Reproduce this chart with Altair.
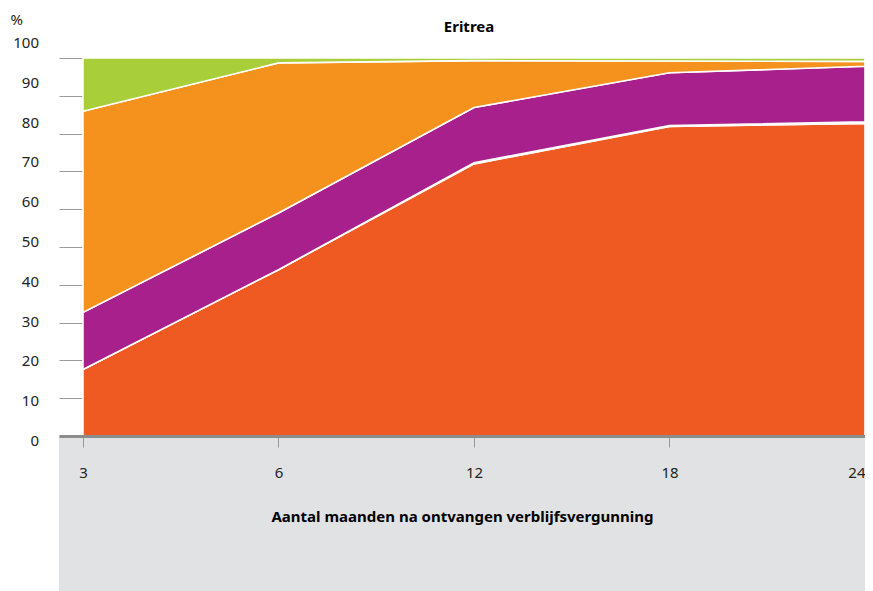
import json
import altair as alt
import pandas as pd

# Data
title_text = ["Eritrea"]
months = ["3", "6", "12", "18", "24"]
series = ["Reeks 1", "Reeks 2", "Reeks 3", "Reeks 4", "Reeks 5"]
red = [17.6, 44.0, 72.0, 81.9, 82.7]
yellow = [0.0, 0.0, 0.3, 0.2, 0.4]
purple = [15.1, 15.0, 14.6, 14.0, 14.7]
orange = [53.2, 39.7, 12.4, 3.1, 1.3]
green = [14.1, 1.3, 0.7, 0.8, 0.9]
colors = ["#EF5A22", "#FFCC00", "#A8208B", "#F5921E", "#A8CF3A"]
y_ticks = [0, 10, 20, 30, 40, 50, 60, 70, 80, 90, 100]

rows = []
for s_i, (name, vals) in enumerate(zip(series, [red, yellow, purple, orange, green])):
    for m_i, v in enumerate(vals):
        rows.append({"idx": m_i, "maand": months[m_i], "reeks": name, "ord": s_i, "waarde": v})
df = pd.DataFrame(rows)

W, H = 806, 378
FONT = "Noto Sans"

label_expr = json.dumps(months) + "[datum.value]"

panel = alt.Chart(pd.DataFrame({"a": [0]})).mark_rect(color="#E1E2E4").encode(
    x=alt.value(0), x2=alt.value(W), y=alt.value(H), y2=alt.value(H + 170)
)

areas = alt.Chart(df).mark_area(stroke="white", strokeWidth=1.6, interpolate="linear").encode(
    x=alt.X(
        "idx:Q",
        scale=alt.Scale(domain=[-0.1226, 4.0], nice=False, zero=False),
        axis=alt.Axis(
            values=list(range(len(months))),
            labelExpr=label_expr,
            title="Aantal maanden na ontvangen verblijfsvergunning",
            titleFontWeight="bold",
            titleFontSize=15,
            titleColor="#000000",
            titlePadding=29,
            labelFontSize=15,
            labelColor="#222222",
            labelPadding=18,
            tickSize=11,
            tickColor="#999999",
            tickWidth=1,
            domainColor="#8C8C8C",
            domainWidth=3,
            grid=False,
            zindex=1,
        ),
    ),
    y=alt.Y(
        "waarde:Q",
        stack="zero",
        scale=alt.Scale(domain=[0, 100], nice=False),
        axis=alt.Axis(
            values=y_ticks,
            title="%",
            titleAngle=0,
            titleAlign="left",
            titleBaseline="middle",
            titleX=-49,
            titleY=-39,
            titleFontWeight="normal",
            titleFontSize=15,
            titleColor="#222222",
            labels=False,
            domain=False,
            ticks=False,
            grid=True,
            gridColor="#999999",
            gridWidth=1,
        ),
    ),
    color=alt.Color("reeks:N", scale=alt.Scale(domain=series, range=colors), legend=None),
    order=alt.Order("ord:Q", sort="ascending"),
)

ylabels = alt.Chart(pd.DataFrame({"v": y_ticks})).mark_text(
    align="right", baseline="middle", fontSize=15, color="#222222", font=FONT
).encode(
    x=alt.value(-20),
    y=alt.Y("v:Q", scale=alt.Scale(domain=[0, 100], range=[383, -15], nice=False), axis=None),
    text=alt.Text("v:Q"),
)

title = alt.Chart(pd.DataFrame({"t": title_text})).mark_text(
    align="center", baseline="middle", fontSize=15, fontWeight="bold", color="#000000", font=FONT
).encode(x=alt.value(410), y=alt.value(-31), text="t:N")

chart = (
    alt.layer(panel, areas, ylabels, title)
    .resolve_scale(y="independent")
    .properties(
        width=W,
        height=H,
        autosize=alt.AutoSizeParams(type="none"),
        padding={"left": 51, "top": 50, "right": 0, "bottom": 160},
    )
    .configure(font=FONT)
    .configure_view(stroke=None)
)

chart.save("out.html", embed_options={"renderer": "svg", "actions": False})
